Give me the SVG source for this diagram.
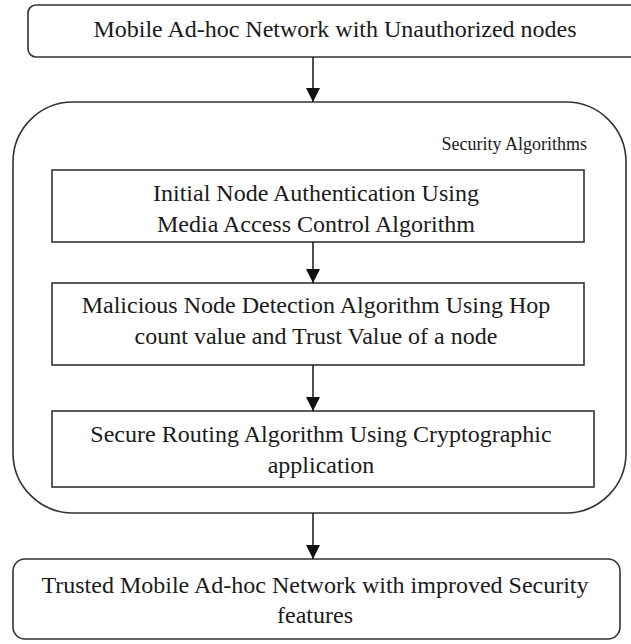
<svg xmlns="http://www.w3.org/2000/svg" width="631" height="644" viewBox="0 0 631 644">
<style>
  .box { fill: #ffffff; stroke: #333333; stroke-width: 1.6; }
  .t { font-family: "Liberation Serif", "Times New Roman", serif; font-size: 24px; fill: #1a1a1a; text-anchor: middle; }
  .small { font-family: "Liberation Serif", "Times New Roman", serif; font-size: 18px; fill: #1a1a1a; text-anchor: end; }
  .conn { stroke: #222222; stroke-width: 1.6; fill: none; marker-end: url(#arrow); }
</style>
<defs>
  <marker id="arrow" markerUnits="userSpaceOnUse" markerWidth="14" markerHeight="14" viewBox="0 0 14 14" refX="14" refY="7" orient="auto">
    <path d="M0,0 L14,7 L0,14 z" fill="#111111"/>
  </marker>
</defs>
<rect width="631" height="644" fill="#ffffff"/>

<g id="container">
  <rect class="box" x="13" y="102" width="613" height="411" rx="60" ry="60"/>
  <text class="small" x="587" y="150">Security Algorithms</text>
</g>

<g id="top">
  <rect class="box" x="28" y="5" width="613" height="52" rx="8" ry="8"/>
  <text class="t" x="335" y="37">Mobile Ad-hoc Network with Unauthorized nodes</text>
</g>

<g id="auth">
  <rect class="box" x="52" y="170" width="532" height="72"/>
  <text class="t" x="316" y="201">Initial Node Authentication Using</text>
  <text class="t" x="316" y="232">Media Access Control Algorithm</text>
</g>

<g id="detect">
  <rect class="box" x="52" y="283" width="532" height="82"/>
  <text class="t" x="316" y="313">Malicious Node Detection Algorithm Using Hop</text>
  <text class="t" x="316" y="344">count value and Trust Value of a node</text>
</g>

<g id="routing">
  <rect class="box" x="52" y="411" width="542" height="76"/>
  <text class="t" x="321" y="442">Secure Routing Algorithm Using Cryptographic</text>
  <text class="t" x="321" y="473">application</text>
</g>

<g id="trusted">
  <rect class="box" x="13" y="559" width="607" height="80" rx="12" ry="12"/>
  <text class="t" x="315" y="593">Trusted Mobile Ad-hoc Network with improved Security</text>
  <text class="t" x="315" y="623">features</text>
</g>

<g id="connectors">
  <line class="conn" x1="313" y1="57" x2="313" y2="102"/>
  <line class="conn" x1="313" y1="242" x2="313" y2="283"/>
  <line class="conn" x1="313" y1="365" x2="313" y2="411"/>
  <line class="conn" x1="313" y1="513" x2="313" y2="559"/>
</g>
</svg>
